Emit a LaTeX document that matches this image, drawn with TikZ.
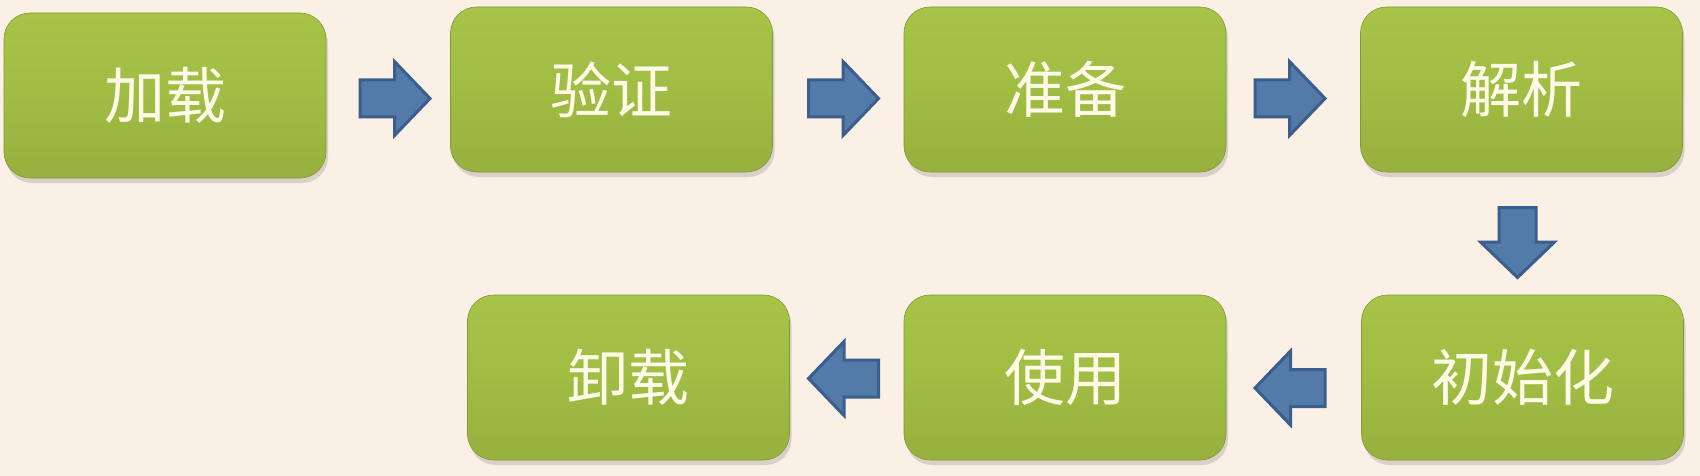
\documentclass[tikz,border=0pt]{standalone}
\usepackage{fontspec}
\newfontfamily\cjk{Noto Sans CJK SC}
\usetikzlibrary{shadows,calc}
\definecolor{bg}{RGB}{250,240,230}
\definecolor{ghi}{RGB}{214,228,108}
\definecolor{gtop}{RGB}{172,201,76}
\definecolor{gmid}{RGB}{160,189,68}
\definecolor{gbot}{RGB}{144,164,58}
\definecolor{gedge}{RGB}{126,146,50}
\definecolor{afill}{RGB}{82,123,170}
\definecolor{aline}{RGB}{60,94,138}
\definecolor{tcol}{RGB}{255,250,232}
\pgfdeclareverticalshading{boxshade}{100bp}{color(0bp)=(gedge); color(3bp)=(gbot); color(50bp)=(gmid); color(93bp)=(gtop); color(98bp)=(ghi); color(100bp)=(ghi)}
\begin{document}
\begin{tikzpicture}[x=1pt,y=-1pt,
  stage/.style={rounded corners=26pt, minimum width=322pt, minimum height=165pt,
    shading=boxshade, draw=gedge!70!gbot, line width=0.6pt,
    font=\cjk\fontsize{61}{64}\selectfont, text=tcol, inner sep=0pt,
    drop shadow={shadow xshift=2pt, shadow yshift=-5pt, opacity=0.28}},
  blockarrow/.style={fill=afill, draw=aline, line width=3pt, line join=miter},
  barrow/.pic={\path[blockarrow] (-35,-18.5) -- (-0.5,-18.5) -- (-0.5,-37) -- (35,0)
      -- (-0.5,37) -- (-0.5,18.5) -- (-35,18.5) -- cycle;}]
\fill[bg] (0,0) rectangle (1700,476);
\useasboundingbox (0,0) rectangle (1700,476);

\node[stage] (b1) at (165,95.5) {加载};
\node[stage] (b2) at (611.5,89.5) {验证};
\node[stage] (b3) at (1065,89.5) {准备};
\node[stage] (b4) at (1521.5,89.5) {解析};
\node[stage] (b5) at (1522.5,377.5) {初始化};
\node[stage] (b6) at (1065,377.5) {使用};
\node[stage] (b7) at (628.5,377.5) {卸载};

\pic (a1) at (395,98.5) {barrow};
\pic (a2) at (843.5,98.5) {barrow};
\pic (a3) at (1290,98.5) {barrow};
\pic[rotate=-90] (a4) at (1517.5,242.5) {barrow};
\pic[rotate=180] (a5) at (1290,388) {barrow};
\pic[rotate=180] (a6) at (843.5,378.5) {barrow};
\end{tikzpicture}
\end{document}
